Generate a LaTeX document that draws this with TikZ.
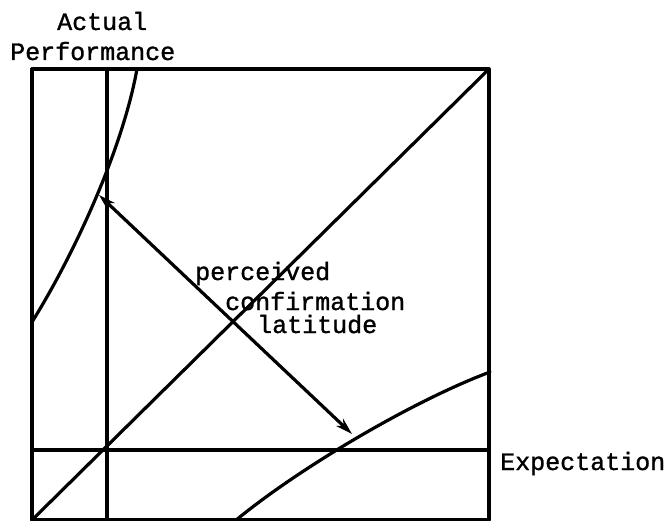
\documentclass[tikz,border=0pt]{standalone}
\usepackage{fontspec}
\setmonofont[FakeBold=1.2]{Liberation Mono}
\usepackage{tikz}
\usetikzlibrary{arrows.meta}

\begin{document}
\begin{tikzpicture}[x=1pt,y=-1pt,
  ligne/.style={line width=3.2pt,line cap=round,line join=round},
  fleche/.style={ligne,{Stealth[length=17pt,width=10pt]}-{Stealth[length=17pt,width=10pt]}},
  txt/.style={font=\ttfamily\fontsize{25}{27}\selectfont,inner sep=0pt,anchor=base west}]
  \useasboundingbox (0,0) rectangle (671,521);
  % ---- repere
  \coordinate (bg) at (32,520);
  \coordinate (hd) at (489,69);
  \coordinate (hg) at (32,69);
  \coordinate (bd) at (489,520);
  \coordinate (vh) at (107,69);
  \coordinate (vb) at (107,520);
  \coordinate (eg) at (32,450);
  \coordinate (ed) at (489,450);
  \draw[ligne] (bg) -- (hg) -- (hd) -- (bd) -- cycle;
  \draw[ligne] (vh) -- (vb);
  \draw[ligne] (eg) -- (ed);
  \draw[ligne] (bg) -- (hd);
  % ---- courbes
  \coordinate (c1a) at (32,322);
  \coordinate (c1b) at (137,69);
  \coordinate (c2a) at (235,521);
  \coordinate (c2b) at (490,372);
  \draw[ligne] (c1a) .. controls (72,258) and (122,152) .. (c1b);
  \draw[ligne] (c2a) .. controls (295,471) and (410,402) .. (c2b);
  % ---- latitude
  \coordinate (haut) at (99,195);
  \coordinate (bas) at (352,434);
  \draw[fleche] (haut) -- (bas);
  % ---- textes
  \node[txt] (act)  at (57,30) {Actual};
  \node[txt] (perf) at (10,60) {Performance};
  \node[txt] (exp)  at (500,470) {Expectation};
  \node[txt] (l1)   at (195,280) {perceived};
  \node[txt] (l2)   at (225,310) {confirmation};
  \node[txt] (l3)   at (257,333) {latitude};
\end{tikzpicture}
\end{document}
